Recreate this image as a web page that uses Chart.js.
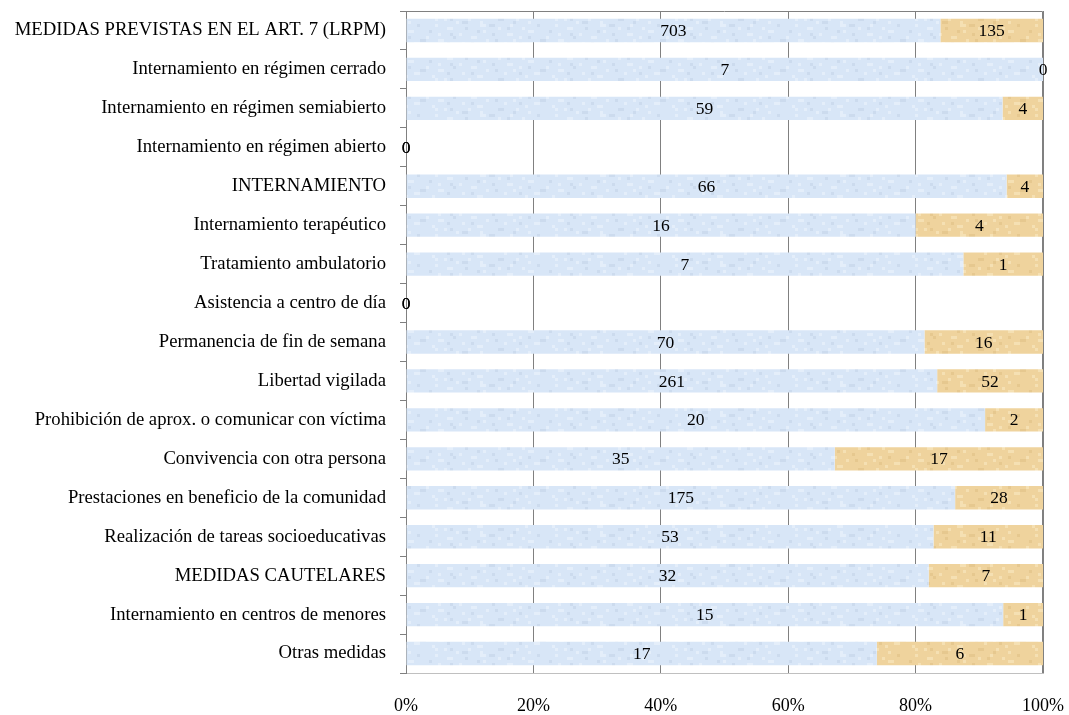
<!DOCTYPE html>
<html lang="es">
<head>
  <meta charset="UTF-8">
  <title>Medidas</title>
  <script src="https://cdn.jsdelivr.net/npm/chart.js"></script>
  <style>
    html, body { margin: 0; padding: 0; background: #fff; }
    #wrap { width: 1069px; height: 715px; }
  </style>
</head>
<body>
  <div id="wrap"><canvas id="chart" width="1069" height="715"></canvas></div>

  <script>
    const categories = [
      'MEDIDAS PREVISTAS EN EL ART. 7 (LRPM)',
      'Internamiento en régimen cerrado',
      'Internamiento en régimen semiabierto',
      'Internamiento en régimen abierto',
      'INTERNAMIENTO',
      'Internamiento terapéutico',
      'Tratamiento ambulatorio',
      'Asistencia a centro de día',
      'Permanencia de fin de semana',
      'Libertad vigilada',
      'Prohibición de aprox. o comunicar con víctima',
      'Convivencia con otra persona',
      'Prestaciones en beneficio de la comunidad',
      'Realización de tareas socioeducativas',
      'MEDIDAS CAUTELARES',
      'Internamiento en centros de menores',
      'Otras medidas'
    ];
    const serieAzul = [703, 7, 59, 0, 66, 16, 7, 0, 70, 261, 20, 35, 175, 53, 32, 15, 17];
    const serieOcre = [135, 0, 4, 0, 4, 4, 1, 0, 16, 52, 2, 17, 28, 11, 7, 1, 6];
    const xTicks = ['0%', '20%', '40%', '60%', '80%', '100%'];

    const FONT = "'Liberation Serif', 'Times New Roman', serif";

    // porcentaje de cada fila (100% apilado)
    function pct(arr, i) {
      const tot = serieAzul[i] + serieOcre[i];
      return tot > 0 ? arr[i] / tot * 100 : 0;
    }
    const pctAzul = serieAzul.map((v, i) => pct(serieAzul, i));
    const pctOcre = serieOcre.map((v, i) => pct(serieOcre, i));
    const rawValues = [serieAzul, serieOcre];

    // textura moteada suave para imitar el relleno original
    function textura(base, light, dark) {
      const c = document.createElement('canvas');
      c.width = 120; c.height = 30;
      const g = c.getContext('2d');
      g.fillStyle = base;
      g.fillRect(0, 0, c.width, c.height);
      for (let y = 0; y < c.height; y += 3) {
        for (let x = 0; x < c.width; x += 3) {
          const n = Math.sin(x * 0.21 + Math.sin(y * 0.5) * 2) * Math.cos(y * 0.41 - x * 0.05)
                  + 0.6 * Math.sin(x * 0.53 - y * 0.29 + Math.cos(x * 0.13));
          if (n > 0.9) { g.fillStyle = light; g.fillRect(x, y, 3, 3); }
          else if (n < -1.05) { g.fillStyle = dark; g.fillRect(x, y, 3, 3); }
        }
      }
      return document.getElementById('chart').getContext('2d').createPattern(c, 'repeat');
    }

    const valueLabels = {
      id: 'valueLabels',
      afterDatasetsDraw(chart) {
        const ctx = chart.ctx;
        ctx.save();
        ctx.font = '17.5px ' + FONT;
        ctx.fillStyle = '#000';
        ctx.textAlign = 'center';
        ctx.textBaseline = 'middle';
        chart.data.datasets.forEach((ds, di) => {
          chart.getDatasetMeta(di).data.forEach((bar, i) => {
            const x = (bar.x + bar.base) / 2;
            ctx.fillText(String(rawValues[di][i]), x, bar.y + 1);
          });
        });
        ctx.restore();
      }
    };

    const frame = {
      id: 'frame',
      beforeDatasetsDraw(chart) {
        const { left, right, top, bottom } = chart.chartArea;
        const ctx = chart.ctx;
        ctx.save();
        ctx.strokeStyle = '#808080';
        ctx.lineWidth = 1;
        ctx.beginPath();
        ctx.moveTo(left + 0.5, top + 0.5);
        ctx.lineTo(right - 0.5, top + 0.5);
        ctx.lineTo(right - 0.5, bottom);
        ctx.stroke();
        ctx.restore();
      }
    };

    new Chart(document.getElementById('chart'), {
      type: 'bar',
      data: {
        labels: categories,
        datasets: [
          { data: pctAzul, backgroundColor: textura('#d8e6f7', '#e4eefa', '#ccdbee'), barPercentage: 0.6, categoryPercentage: 1 },
          { data: pctOcre, backgroundColor: textura('#efd39d', '#f5e0b3', '#e6c88f'), barPercentage: 0.6, categoryPercentage: 1 }
        ]
      },
      options: {
        indexAxis: 'y',
        responsive: false,
        animation: false,
        layout: { padding: { top: 11, right: 26, left: 0, bottom: 0 } },
        plugins: { legend: { display: false }, tooltip: { enabled: false } },
        scales: {
          x: {
            stacked: true,
            min: 0, max: 100,
            ticks: {
              stepSize: 20,
              color: '#000',
              font: { family: FONT, size: 18 },
              padding: 22,
              maxRotation: 0,
              callback: (v, i) => xTicks[i]
            },
            grid: { color: '#808080', drawTicks: false, tickLength: 0 },
            border: { display: true, color: '#c0c0c0' },
            afterFit: s => { s.height = 42; s.paddingLeft = 0; s.paddingRight = 0; }
          },
          y: {
            stacked: true,
            ticks: {
              color: '#000',
              font: { family: FONT, size: 18.7 },
              padding: 14
            },
            grid: { display: true, drawOnChartArea: false, tickLength: 6, color: '#808080', offset: true },
            border: { display: true, color: '#808080' },
            afterFit: s => { s.width = 406; s.paddingTop = 0; s.paddingBottom = 0; }
          }
        }
      },
      plugins: [frame, valueLabels]
    });
  </script>
</body>
</html>
